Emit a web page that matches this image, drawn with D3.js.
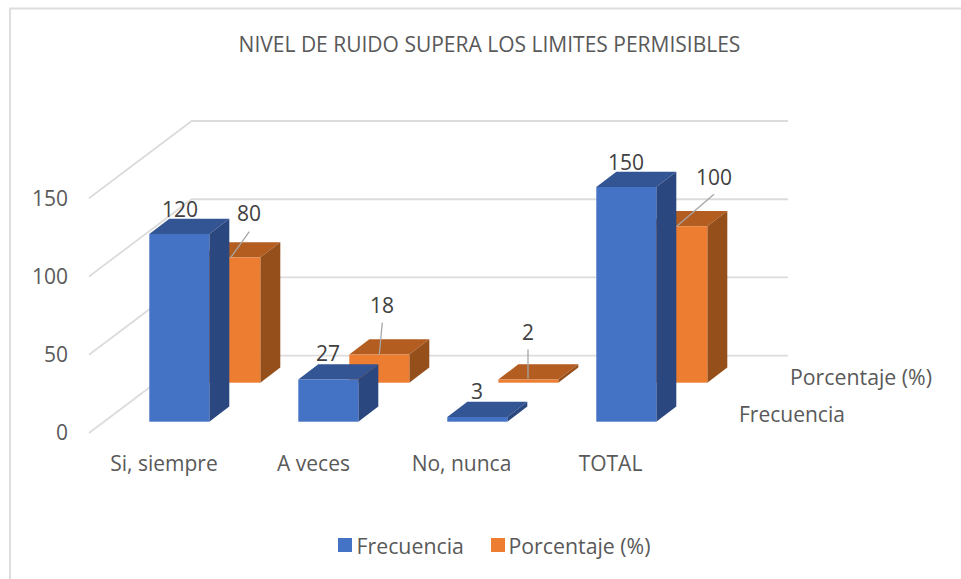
<!DOCTYPE html>
<html><head><meta charset="utf-8">
<script src="https://cdn.jsdelivr.net/npm/d3@7/dist/d3.min.js"></script>
<style>html,body{margin:0;padding:0;background:#fff}svg{display:block}text{font-family:"Open Sans",sans-serif}</style>
</head><body><svg id="c" width="961" height="579"></svg>
<script>
const categories = ["Si, siempre", "A veces", "No, nunca", "TOTAL"];
const seriesNames = ["Frecuencia", "Porcentaje (%)"];
const frecuencia = [120, 27, 3, 150];
const porcentaje = [80, 18, 2, 100];
const yTicks = [0, 50, 100, 150];
const seriesColors = [
  {front:"#4472c4", top:"#335593", side:"#2a477f"},
  {front:"#ed7d31", top:"#b35d21", side:"#954f1b"}
];
const svg = d3.select("#c");
const base = 421.7, barW = 60;
const y = d3.scaleLinear().domain([0,150]).range([0,234.7]);
const x = d3.scaleBand().domain(categories).range([149.3, 149.3+149*4]);
const seriesDX = d3.scaleOrdinal().domain(seriesNames).range([0,51]);
const seriesDY = d3.scaleOrdinal().domain(seriesNames).range([0,-39]);
const barDX = 20, barDY = 15.3;
const textGray = "#595959", labelGray = "#404040", fs = 21, fsWide = 21.3;

// chart frame (top and left edges only)
svg.append("path").attr("d","M10 579V8.5H961").attr("fill","none").attr("stroke","#dedede").attr("stroke-width",2);

// gridlines
const floorFront = 433, floorBack = 355.7, gridLeft = 89, gridBack = 191.7, gridRight = 788;
const g = svg.append("g").attr("fill","none").attr("stroke","#dcdcdc").attr("stroke-width",1.8);
yTicks.forEach(t=>{
  const d = y(t);
  g.append("path").attr("d",`M${gridLeft} ${floorFront-d}L${gridBack} ${floorBack-d}H${gridRight}`);
});
yTicks.forEach(t=>{
  svg.append("text").attr("x",68).attr("y",floorFront-y(t)-0.8).attr("text-anchor","end").attr("dominant-baseline","central")
   .attr("font-size",fs).attr("fill",textGray).text(t);
});

function bar(cat,sName,val,col){
  const x0 = x(cat)+seriesDX(sName), x1=x0+barW;
  const yb = base+seriesDY(sName), yt = yb-y(val);
  const gg = svg.append("g");
  gg.append("path").attr("d",`M${x0} ${yt}L${x0+barDX} ${yt-barDY}H${x1+barDX}L${x1} ${yt}Z`).attr("fill",col.top);
  gg.append("path").attr("d",`M${x1} ${yt}L${x1+barDX} ${yt-barDY}V${yb-barDY}L${x1} ${yb}Z`).attr("fill",col.side);
  gg.append("rect").attr("x",x0).attr("y",yt).attr("width",barW).attr("height",yb-yt).attr("fill",col.front);
}
categories.forEach((c,i)=>bar(c,seriesNames[1],porcentaje[i],seriesColors[1]));
categories.forEach((c,i)=>bar(c,seriesNames[0],frecuencia[i],seriesColors[0]));

// data labels and leader lines
const labelOffsets0 = [[30.7,-17.2],[29.7,-18.9],[29.7,-18.5],[29.7,-17.5]];
const labelOffsets1 = [[48.7,-36.2],[32.7,-42],[29.7,-40],[66.7,-41.7]];
const leader = [[[30.4,0],[49,-26]],[[30,0],[33,-32]],[[29.7,-1],[29.7,-30]],[[29.5,0],[66.7,-32]]];
categories.forEach((c,i)=>{
  const x0=x(c), yt=base-y(frecuencia[i]);
  const x1=x0+seriesDX(seriesNames[1]), yt1=base+seriesDY(seriesNames[1])-y(porcentaje[i]);
  svg.append("path").attr("d",`M${x1+leader[i][0][0]} ${yt1+leader[i][0][1]}L${x1+leader[i][1][0]} ${yt1+leader[i][1][1]}`)
    .attr("stroke","#a6a6a6").attr("stroke-width",1.3).attr("fill","none");
  svg.append("text").attr("x",x0+labelOffsets0[i][0]).attr("y",yt+labelOffsets0[i][1]).attr("text-anchor","middle")
    .attr("font-size",fs).attr("fill",labelGray).text(frecuencia[i]);
  svg.append("text").attr("x",x1+labelOffsets1[i][0]).attr("y",yt1+labelOffsets1[i][1]).attr("text-anchor","middle")
    .attr("font-size",fs).attr("fill",labelGray).text(porcentaje[i]);
});

// category labels
const catLabelX=[164,313.5,461.5,610.5];
categories.forEach((c,i)=>svg.append("text").attr("x",catLabelX[i]).attr("y",463).attr("text-anchor","middle").attr("dominant-baseline","central")
  .attr("font-size",fs).attr("fill",textGray).text(c));
// depth axis labels
svg.append("text").attr("x",790).attr("y",376).attr("dominant-baseline","central").attr("font-size",fsWide).attr("fill",textGray).text(seriesNames[1]);
svg.append("text").attr("x",739).attr("y",414).attr("dominant-baseline","central").attr("font-size",fs).attr("fill",textGray).text(seriesNames[0]);
// title
svg.append("text").attr("x",489.5).attr("y",44).attr("text-anchor","middle").attr("dominant-baseline","central")
  .attr("font-size",fs).attr("fill",textGray).text("NIVEL DE RUIDO SUPERA LOS LIMITES PERMISIBLES");
// legend
const leg=[[338,356.5],[491,508.5]];
seriesNames.forEach((s,i)=>{
  svg.append("rect").attr("x",leg[i][0]).attr("y",538).attr("width",14).attr("height",14).attr("fill",seriesColors[i].front);
  svg.append("text").attr("x",leg[i][1]).attr("y",545).attr("dominant-baseline","central").attr("font-size",fsWide).attr("fill",textGray).text(s);
});
</script></body></html>
